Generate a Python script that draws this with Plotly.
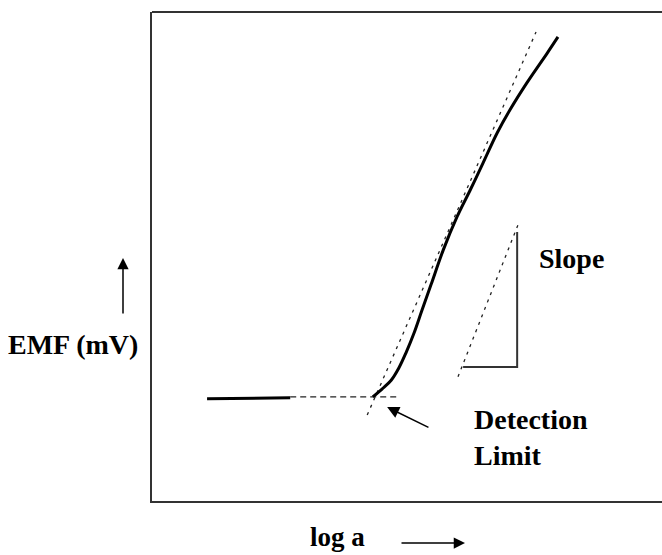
import plotly.graph_objects as go

# Schematic response curve of an ion-selective electrode (arbitrary units)
baseline_x = [1.08, 2.71]
baseline_y = [2.09, 2.11]

curve_x = [4.33, 4.51, 4.69, 4.84, 4.98, 5.14, 5.29, 5.47, 5.71, 5.98, 6.24,
           6.49, 6.77, 7.02, 7.35, 7.75, 7.96]
curve_y = [2.13, 2.29, 2.47, 2.72, 3.03, 3.44, 3.89, 4.42, 5.13, 5.81, 6.36,
           6.91, 7.53, 8.00, 8.55, 9.16, 9.49]

base_ext_x = [2.71, 4.86]
base_ext_y = [2.13, 2.13]

tangent_x = [4.22, 7.53]
tangent_y = [1.76, 9.59]

slope_dash_x = [6.00, 7.20]
slope_dash_y = [2.54, 5.71]

slope_tri_x = [7.16, 7.16, 6.10]
slope_tri_y = [5.50, 2.74, 2.74]

dl_arrow_tail = (5.45, 1.49)
dl_arrow_tip = (4.61, 1.92)

x_label = "log a"
y_label = "EMF (mV)"
slope_label = "Slope"
dl_label = "Detection<br>Limit"

FONT = "Liberation Serif"
ML, MT, W, H = 152, 12, 510, 489

fig = go.Figure()
fig.add_trace(go.Scatter(x=baseline_x, y=baseline_y, mode="lines",
                         line=dict(color="black", width=3)))
fig.add_trace(go.Scatter(x=base_ext_x, y=base_ext_y, mode="lines",
                         line=dict(color="#222", width=1.3, dash="6px,4px")))
fig.add_trace(go.Scatter(x=tangent_x, y=tangent_y, mode="lines",
                         line=dict(color="#222", width=1.3, dash="3px,5px")))
fig.add_trace(go.Scatter(x=curve_x, y=curve_y, mode="lines",
                         line=dict(color="black", width=3, shape="spline")))
fig.add_trace(go.Scatter(x=slope_dash_x, y=slope_dash_y, mode="lines",
                         line=dict(color="#222", width=1.3, dash="3px,5px")))
fig.add_trace(go.Scatter(x=slope_tri_x, y=slope_tri_y, mode="lines",
                         line=dict(color="#333", width=2)))

def font(sz=28):
    return dict(family=FONT, size=sz, color="black")

ann = []
ann.append(dict(x=dl_arrow_tip[0], y=dl_arrow_tip[1], ax=dl_arrow_tail[0],
                ay=dl_arrow_tail[1], xref="x", yref="y", axref="x", ayref="y",
                showarrow=True, arrowhead=2, arrowsize=1.6, arrowwidth=1.5,
                arrowcolor="black", text=""))
ann.append(dict(x=7.55, y=4.95, xref="x", yref="y", text="<b>" + slope_label + "</b>",
                showarrow=False, xanchor="left", yanchor="middle", font=font()))
ann.append(dict(x=6.27, y=1.29, xref="x", yref="y", text="<b>" + dl_label + "</b>",
                showarrow=False, xanchor="left", yanchor="middle", align="left",
                font=font()))
ann.append(dict(x=(73 - ML) / W, y=(501 - 344) / H, xref="paper", yref="paper",
                text="<b>" + y_label + "</b>", showarrow=False, xanchor="center",
                yanchor="middle", font=font()))
ann.append(dict(x=(123 - ML) / W, y=(501 - 258) / H, xref="paper", yref="paper",
                ax=0, ay=57, showarrow=True, arrowhead=2, arrowsize=1.5,
                arrowwidth=1.5, arrowcolor="black", text=""))
ann.append(dict(x=(308 - ML) / W, y=(501 - 537) / H, xref="paper", yref="paper",
                text="<b>" + x_label + "</b>", showarrow=False, xanchor="left",
                yanchor="middle", font=font(27)))
ann.append(dict(x=(465 - ML) / W, y=(501 - 543) / H, xref="paper", yref="paper",
                ax=-65, ay=0, showarrow=True, arrowhead=2, arrowsize=1.5,
                arrowwidth=1.5, arrowcolor="black", text=""))

fig.update_layout(
    width=662, height=555, margin=dict(l=ML, r=0, t=MT, b=555 - MT - H),
    paper_bgcolor="white", plot_bgcolor="white", showlegend=False,
    annotations=ann,
    shapes=[dict(type="line", xref="paper", yref="paper", x0=0, x1=1.01, y0=1, y1=1,
                 line=dict(color="#333", width=2))],
    xaxis=dict(range=[0, 10], showgrid=False, zeroline=False, showticklabels=False,
               ticks="", showline=True, linecolor="#333", linewidth=2),
    yaxis=dict(range=[0, 10], showgrid=False, zeroline=False, showticklabels=False,
               ticks="", showline=True, linecolor="#333", linewidth=2),
)

fig.write_html("out.html")
